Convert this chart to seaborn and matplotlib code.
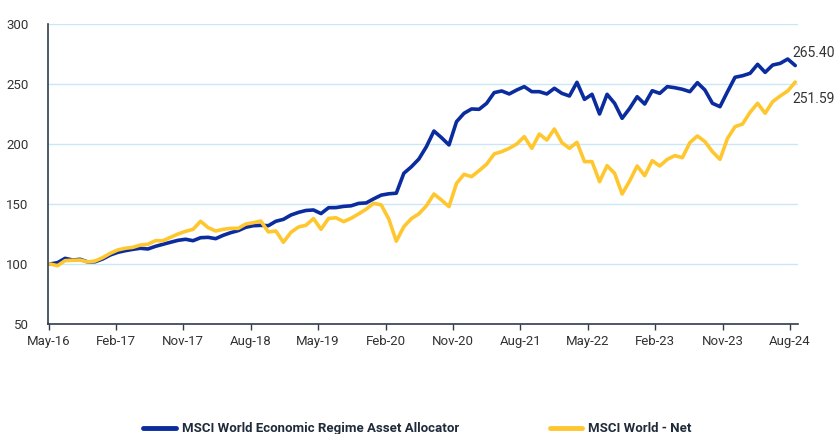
import pandas as pd
import seaborn as sns
import matplotlib.pyplot as plt

sns.set_theme(style="white")
plt.rcParams["font.family"] = ["Roboto", "DejaVu Sans"]

# monthly index values, May-16 .. Aug-24
allocator = [
    100.0, 101.1, 104.7, 103.3, 103.9, 101.7, 101.9, 104.2, 107.5, 109.7,
    111.1, 112.2, 113.1, 112.5, 114.7, 116.4, 118.1, 119.7, 120.6, 119.4,
    121.9, 122.2, 121.1, 123.9, 126.1, 127.8, 130.6, 131.9, 132.2, 131.9,
    135.6, 137.2, 140.8, 143.0, 144.6, 145.0, 142.0, 146.9, 147.0, 148.0,
    148.5, 150.5, 150.9, 154.3, 157.4, 158.5, 159.0, 175.6, 181.0, 187.5,
    197.8, 210.8, 205.3, 199.2, 218.6, 225.6, 229.2, 228.9, 233.9, 242.8,
    244.2, 241.7, 245.0, 247.8, 243.6, 243.6, 241.7, 246.4, 242.2, 240.0,
    251.4, 237.2, 241.4, 225.0, 241.4, 233.9, 221.4, 229.7, 239.4, 233.3,
    244.4, 242.2, 247.8, 246.9, 245.6, 243.6, 251.1, 245.0, 233.9, 231.1,
    243.6, 255.6, 256.9, 258.9, 266.4, 259.7, 265.8, 267.2, 270.8, 265.40,
]
world_net = [
    100.0, 98.6, 102.8, 103.1, 103.3, 101.7, 102.5, 105.3, 108.9, 111.7,
    113.1, 113.9, 115.8, 116.4, 119.4, 119.4, 122.2, 125.0, 127.2, 128.9,
    135.6, 130.3, 127.5, 128.9, 129.7, 129.7, 133.3, 134.4, 135.8, 126.7,
    127.5, 118.1, 126.4, 130.8, 132.3, 137.8, 128.9, 138.0, 138.5, 135.3,
    138.1, 141.8, 145.7, 150.6, 149.2, 137.5, 119.0, 131.1, 137.8, 141.8,
    148.5, 158.3, 153.3, 147.8, 167.2, 174.7, 172.8, 177.8, 183.1, 191.7,
    193.6, 196.4, 200.0, 206.1, 196.4, 208.3, 203.3, 212.5, 201.1, 196.4,
    201.4, 185.3, 185.3, 168.6, 181.9, 175.6, 158.3, 169.2, 181.7, 173.6,
    186.1, 181.7, 187.2, 190.3, 188.6, 201.1, 206.7, 202.0, 193.6, 187.2,
    204.7, 214.4, 216.7, 226.4, 233.9, 225.6, 235.3, 240.0, 244.2, 251.59,
]
tick_labels = ["May-16", "Feb-17", "Nov-17", "Aug-18", "May-19", "Feb-20",
               "Nov-20", "Aug-21", "May-22", "Feb-23", "Nov-23", "Aug-24"]
series_names = ["MSCI World Economic Regime Asset Allocator", "MSCI World - Net"]

df = pd.DataFrame({"month": range(len(allocator)),
                   series_names[0]: allocator,
                   series_names[1]: world_net})
long = df.melt(id_vars="month", var_name="series", value_name="value")

fig, ax = plt.subplots(figsize=(8.35, 4.34), dpi=100)
fig.subplots_adjust(left=0.0575, right=0.956, top=0.9447, bottom=0.2535)

sns.lineplot(data=long, x="month", y="value", hue="series", hue_order=series_names,
             palette=["#0b2c9e", "#ffc72f"], linewidth=2.6, ax=ax)

ax.set_ylim(50, 300)
ax.set_yticks(range(50, 301, 50))
ax.set_xlim(-0.27, 99.4)
step = 8.955
ax.set_xticks([-0.2 + k * step for k in range(len(tick_labels))])
ax.set_xticklabels(tick_labels)
ax.set_xlabel("")
ax.set_ylabel("")

ax.yaxis.grid(True, color="#c8e8f8", linewidth=1)
ax.set_axisbelow(True)
for s in ["top", "right"]:
    ax.spines[s].set_visible(False)
for s in ["left", "bottom"]:
    ax.spines[s].set_color("#2f3d4a")
    ax.spines[s].set_linewidth(1.2)

ax.tick_params(axis="x", bottom=True, length=4, width=1, color="#2f3d4a",
               labelsize=9.5, labelcolor="#333333", pad=4)
ax.tick_params(axis="y", left=False, labelsize=9.5, labelcolor="#333333", pad=8)

last = len(allocator) - 1
ax.annotate(f"{allocator[-1]:.2f}", xy=(last, allocator[-1]), xytext=(-2, 9),
            textcoords="offset points", ha="left", va="center",
            fontsize=10, color="#333333")
ax.annotate(f"{world_net[-1]:.2f}", xy=(last, world_net[-1]), xytext=(-2, -12),
            textcoords="offset points", ha="left", va="center",
            fontsize=10, color="#333333")

handles, labels = ax.get_legend_handles_labels()
ax.legend_.remove()
leg = fig.legend(handles, labels, loc="center", bbox_to_anchor=(0.5, 0.012),
                 ncol=2, frameon=False, handlelength=2.45, handletextpad=0.45,
                 columnspacing=6.9, prop={"weight": "bold", "size": 9.5})
for t in leg.get_texts():
    t.set_color("#1f2a3a")
for h in leg.legend_handles:
    h.set_linewidth(3.5)

fig.savefig("out.png", dpi=100)
